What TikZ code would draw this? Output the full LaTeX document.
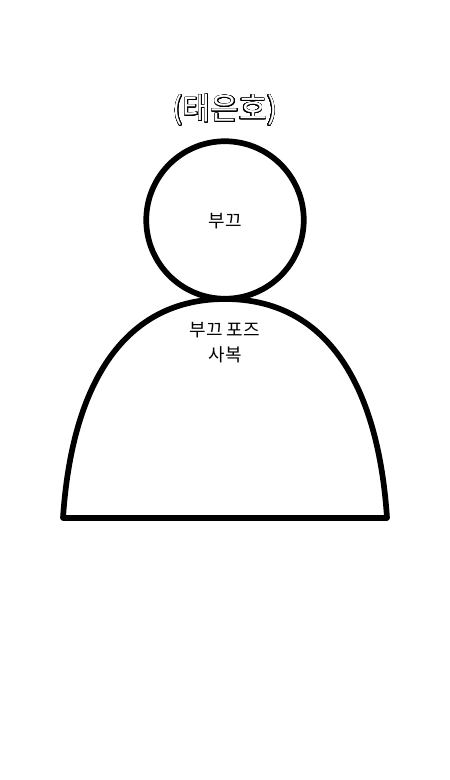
\documentclass[tikz,border=0pt]{standalone}
\usepackage{fontspec}
\usepackage{contour}
\setmainfont{Noto Sans CJK KR}
\contourlength{0.6pt}
\contournumber{24}
\tikzset{
  shapeline/.style={draw=black,line width=5.7pt,line join=round},
  labeltext/.style={font=\fontsize{18}{25}\selectfont,align=center,inner sep=0pt,text=black},
}
\begin{document}
\begin{tikzpicture}[x=1pt,y=-1pt]
\useasboundingbox (0,0) rectangle (450,780);
\fill[white] (0,0) rectangle (450,780);
\draw[shapeline] (63,518) .. controls (72,382) and (125,299) .. (225,299) .. controls (325,299) and (378,382) .. (387,518) -- cycle;
\node[shapeline,circle,minimum size=157.5pt,inner sep=0pt] (head) at (225,220) {};
\node[labeltext] (headtext) at (225,221.5) {부끄};
\node[labeltext] (bodytext) at (225,343) {부끄 포즈\\사복};
\node[inner sep=0pt,font=\fontsize{30.5}{32}\selectfont] (title) at (225,110.5) {\contour{black}{\textcolor{white}{(태은호)}}};
\end{tikzpicture}
\end{document}
